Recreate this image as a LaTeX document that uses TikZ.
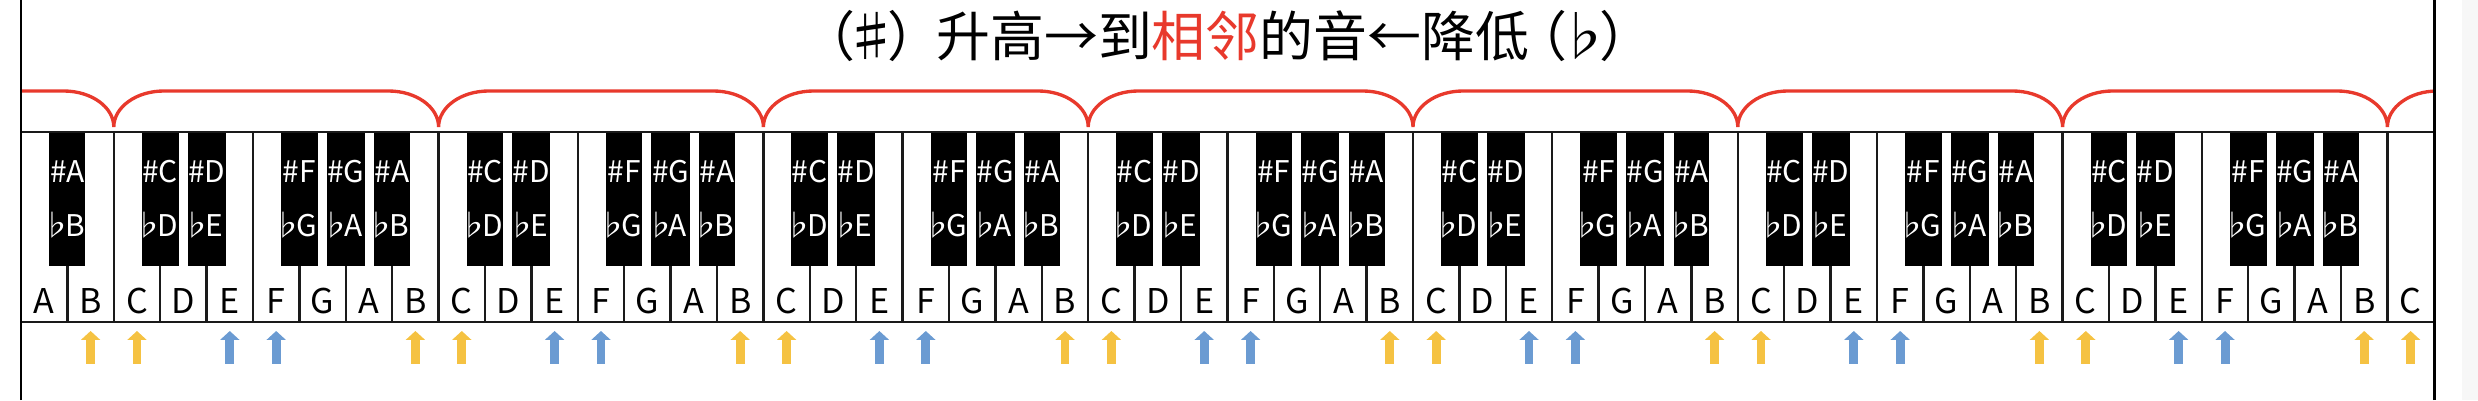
\documentclass[tikz,border=0pt]{standalone}
\usepackage{fontspec}
\setmainfont{Noto Sans CJK SC}
\usepackage{tikz}
\usetikzlibrary{positioning,calc,arrows.meta}
\definecolor{BraceRed}{HTML}{E8392C}
\definecolor{ArrYellow}{HTML}{F5C242}
\definecolor{ArrBlue}{HTML}{6B9BD2}
\definecolor{KeyLine}{HTML}{1A1A1A}
\definecolor{EdgeGray}{HTML}{F7F7F7}
\tikzset{
  whitekey/.style={draw=KeyLine,fill=white,line width=1.4pt,outer sep=0pt,
    inner ysep=0pt,minimum width=0.928cm,text height=3.62cm,text depth=0.18cm,
    anchor=south west,font=\fontsize{19.4}{23}\selectfont},
  blackkey/.style={fill=black,draw=black,line width=0.6pt,minimum width=0.6cm,
    minimum height=2.66cm,inner sep=0pt,anchor=north,text=white,align=center,
    font=\fontsize{17}{30.7}\selectfont},
  keyline/.style={draw=KeyLine,line width=1.4pt},
  frame/.style={draw=black,line width=1.7pt},
  brace/.style={draw=BraceRed,line width=1.9pt},
  uparr/.style={-{Triangle[width=10.8pt,length=5.1pt]},line width=5.1pt,
    shorten >=0.18cm},
  titletext/.style={font=\fontsize{30.7}{36}\selectfont},
}
\newcommand{\notename}[1]{\ifcase#1 A\or B\or C\or D\or E\or F\or G\fi}
\newcommand{\flt}{\kern-0.3em♭\kern-0.2em}
\newcommand{\inparen}[1]{（\kern-0.2em#1\kern-0.2em）}

\begin{document}
\begin{tikzpicture}[x=0.02cm,y=0.02cm]
\useasboundingbox (0,0) rectangle (2478,400);
\fill[EdgeGray] (2462,0) rectangle (2478,400);

\node[titletext] (title) at (1227.5,364)
  {\inparen{♯}\kern-0.1em 升高→到\textcolor{BraceRed}{相邻}的音←降低\kern-0.3em\inparen{♭}};

% white keys A B, seven octaves C..B, then C
\foreach \i in {0,...,51}{
  \pgfmathtruncatemacro\m{mod(\i,7)}
  \node[whitekey] (w\i) at ({21+46.4*\i},78) {\notename{\m}};
}
% black keys sit on the boundary after A, C, D, F, G
\foreach \i in {0,...,50}{
  \pgfmathtruncatemacro\m{mod(\i,7)}
  \pgfmathtruncatemacro\n{mod(\i+1,7)}
  \ifnum\m=1 \else\ifnum\m=4 \else
    \node[blackkey] (b\i) at (w\i.north east) {\#\notename{\m}\\\flt\notename{\n}};
  \fi\fi
}
\draw[keyline] (w0.north west) -- (w51.north east);

% octave braces
\begin{scope}
\clip (21,0) rectangle (2434,400);
\draw[brace] (0,309) foreach \k in {0,...,7}{
  -- ({63.8+324.8*\k},309)
  arc[start angle=90,end angle=0,x radius=50,y radius=36]
  arc[start angle=180,end angle=90,x radius=50,y radius=36]} -- (2480,309);
\end{scope}

\draw[frame] (21,0) -- (21,400);
\draw[frame] (2434,0) -- (2434,400);

% half steps: B-C yellow, E-F blue
\foreach \i in {1,2,8,9,15,16,22,23,29,30,36,37,43,44,50,51}{
  \coordinate (a\i) at ([yshift=-0.84cm]w\i.south);
  \draw[uparr,ArrYellow] (a\i) -- (w\i.south);
}
\foreach \i in {4,5,11,12,18,19,25,26,32,33,39,40,46,47}{
  \coordinate (a\i) at ([yshift=-0.84cm]w\i.south);
  \draw[uparr,ArrBlue] (a\i) -- (w\i.south);
}
\end{tikzpicture}
\end{document}
